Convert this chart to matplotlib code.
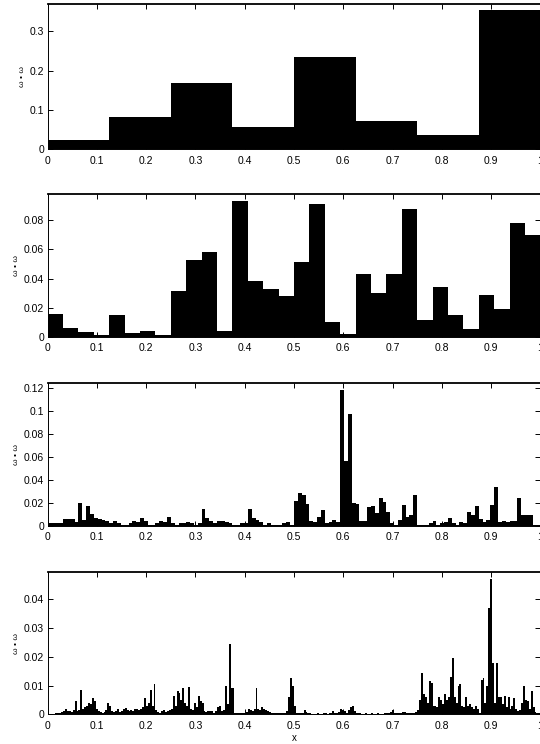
import numpy as np
import matplotlib
matplotlib.use('Agg')
import matplotlib.pyplot as plt
from matplotlib.ticker import FuncFormatter, MultipleLocator

plt.rcParams['font.family'] = ['Liberation Sans', 'DejaVu Sans']

# energy per interval at four resolutions (8, 32, 128, 256 intervals on [0, 1])
level1 = [0.024, 0.081, 0.169, 0.057, 0.234, 0.071, 0.037, 0.354]

level2 = [0.0155, 0.0064, 0.0032, 0.0014, 0.0151, 0.0027, 0.0037, 0.0014,
          0.0313, 0.0530, 0.0580, 0.0040, 0.0930, 0.0380, 0.0330, 0.0280,
          0.0510, 0.0910, 0.0103, 0.0018, 0.0434, 0.0300, 0.0434, 0.0875,
          0.0119, 0.0340, 0.0153, 0.0053, 0.0290, 0.0190, 0.0780, 0.0700]

level3 = [0.0026, 0.0026, 0.0026, 0.0026, 0.0055, 0.0060, 0.0060, 0.0030,
          0.0200, 0.0050, 0.0170, 0.0100, 0.0070, 0.0060, 0.0050, 0.0040,
          0.0020, 0.0040, 0.0020, 0.0010, 0.0010, 0.0020, 0.0040, 0.0030,
          0.0065, 0.0040, 0.0010, 0.0010, 0.0020, 0.0045, 0.0030, 0.0075,
          0.0020, 0.0010, 0.0020, 0.0020, 0.0030, 0.0020, 0.0010, 0.0020,
          0.0150, 0.0070, 0.0040, 0.0020, 0.0040, 0.0040, 0.0030, 0.0020,
          0.0010, 0.0010, 0.0020, 0.0020, 0.0150, 0.0070, 0.0050, 0.0030,
          0.0010, 0.0020, 0.0010, 0.0010, 0.0010, 0.0020, 0.0030, 0.0010,
          0.0220, 0.0290, 0.0270, 0.0190, 0.0040, 0.0030, 0.0080, 0.0140,
          0.0020, 0.0030, 0.0050, 0.0030, 0.1190, 0.0570, 0.0980, 0.0200,
          0.0190, 0.0040, 0.0040, 0.0160, 0.0170, 0.0110, 0.0240, 0.0210,
          0.0120, 0.0020, 0.0010, 0.0050, 0.0180, 0.0080, 0.0090, 0.0270,
          0.0010, 0.0010, 0.0010, 0.0020, 0.0040, 0.0010, 0.0020, 0.0030,
          0.0070, 0.0020, 0.0010, 0.0030, 0.0020, 0.0120, 0.0090, 0.0170,
          0.0060, 0.0030, 0.0050, 0.0180, 0.0340, 0.0030, 0.0040, 0.0030,
          0.0040, 0.0040, 0.0240, 0.0090, 0.0090, 0.0090, 0.0010, 0.0010]

# finest level, in units of 1e-3
level4_milli = [
    0.2, 0.2, 0.2, 0.2, 0.3, 0.3, 0.6, 0.8, 1.0, 1.8, 1.0, 1.0, 0.8, 1.5, 4.5, 1.0,
    1.5, 8.5, 2.0, 2.5, 3.0, 4.0, 3.5, 5.5, 4.5, 2.0, 1.0, 0.8, 0.6, 0.8, 1.5, 4.0,
    3.0, 1.0, 0.8, 1.2, 2.0, 0.8, 1.0, 2.0, 2.2, 1.5, 1.2, 1.5, 1.0, 1.8, 2.0, 1.5,
    2.0, 2.5, 5.5, 3.0, 4.0, 8.5, 3.0, 10.5, 1.5, 0.8, 0.5, 1.0, 1.5, 0.8, 1.2, 1.5,
    2.0, 6.5, 3.0, 8.0, 7.5, 5.0, 9.0, 4.0, 3.0, 9.5, 2.0, 1.5, 4.0, 2.5, 6.5, 4.5,
    4.0, 1.0, 0.8, 1.0, 1.2, 1.0, 0.5, 1.0, 2.5, 3.0, 1.0, 1.5, 10.0, 3.5, 24.5, 9.0,
    9.0, 0.5, 0.3, 0.3, 0.5, 0.3, 0.3, 0.8, 2.0, 1.5, 1.2, 1.8, 9.0, 2.0, 1.5, 2.5,
    2.0, 1.5, 1.0, 0.8, 0.5, 0.5, 0.3, 0.3, 0.3, 0.3, 0.5, 0.5, 1.0, 6.0, 12.5, 10.0,
    3.0, 0.5, 0.3, 0.3, 0.3, 1.5, 0.8, 0.3, 0.3, 0.2, 0.2, 0.2, 0.3, 0.2, 0.2, 0.3,
    0.3, 0.2, 0.3, 0.5, 1.0, 0.5, 0.3, 0.8, 2.0, 1.5, 1.0, 0.5, 1.5, 2.5, 3.0, 1.0,
    0.5, 0.3, 0.3, 0.2, 0.2, 0.3, 0.2, 0.2, 0.3, 0.2, 0.2, 0.3, 0.2, 0.2, 0.2, 0.3,
    0.3, 0.5, 0.8, 1.5, 0.3, 0.5, 0.3, 0.5, 0.8, 0.8, 0.5, 0.5, 0.5, 0.3, 0.5, 0.8,
    1.5, 5.0, 14.5, 7.0, 6.0, 4.0, 11.5, 11.0, 3.0, 3.0, 2.5, 6.0, 5.0, 3.5, 7.0, 5.0,
    6.0, 13.0, 19.5, 6.0, 4.0, 10.0, 10.5, 3.0, 2.5, 6.0, 3.0, 3.5, 2.5, 2.0, 3.0, 2.0,
    0.5, 12.0, 12.5, 4.0, 10.0, 37.0, 47.0, 18.0, 4.0, 18.0, 6.0, 6.0, 3.5, 6.5, 2.5, 6.0,
    2.0, 3.0, 5.5, 2.0, 1.0, 1.5, 4.0, 10.0, 5.0, 4.5, 2.0, 8.0, 2.5, 0.8, 0.5, 0.5]
level4 = [v / 1000.0 for v in level4_milli]

levels = [level1, level2, level3, level4]
ytops = [0.37, 0.0977, 0.1245, 0.0496]
ysteps = [0.1, 0.02, 0.02, 0.01]
xticks = [0, 0.1, 0.2, 0.3, 0.4, 0.5, 0.6, 0.7, 0.8, 0.9, 1.0]

# axes boxes in pixels: (top, bottom) of each panel, figure is 540 x 744
boxes = [(4.0, 149.3), (194.3, 336.9), (383.3, 525.7), (571.7, 714.3)]
W, H = 540.0, 744.0
left_px, right_px = 47.7, 540.3

fmt = FuncFormatter(lambda v, p: '%g' % round(v, 6))

fig = plt.figure(figsize=(W / 100, H / 100), dpi=100)
for i, vals in enumerate(levels):
    top, bot = boxes[i]
    ax = fig.add_axes([left_px / W, 1 - bot / H, (right_px - left_px) / W, (bot - top) / H])
    n = len(vals)
    edges = np.arange(n) / n
    ax.bar(edges, vals, width=1.0 / n, align='edge', color='black', linewidth=0)
    ax.set_xlim(0, 1)
    ax.set_ylim(0, ytops[i])
    ax.set_xticks(xticks)
    ax.yaxis.set_major_locator(MultipleLocator(ysteps[i]))
    ax.xaxis.set_major_formatter(fmt)
    ax.yaxis.set_major_formatter(fmt)
    ax.tick_params(direction='in', top=True, right=True, length=3.5, width=0.7,
                   labelsize=7.5, colors='black')
    ax.tick_params(axis='x', pad=4.5)
    ax.tick_params(axis='y', pad=2.5)
    for side in ['left', 'bottom', 'right']:
        ax.spines[side].set_linewidth(0.7)
    ax.spines['top'].set_linewidth(1.3)
    ax.set_ylabel('ω • ω', fontsize=6, labelpad=3)
    if i == 3:
        ax.set_xlabel('x', fontsize=7, labelpad=2)

fig.savefig('out.png', dpi=100)
